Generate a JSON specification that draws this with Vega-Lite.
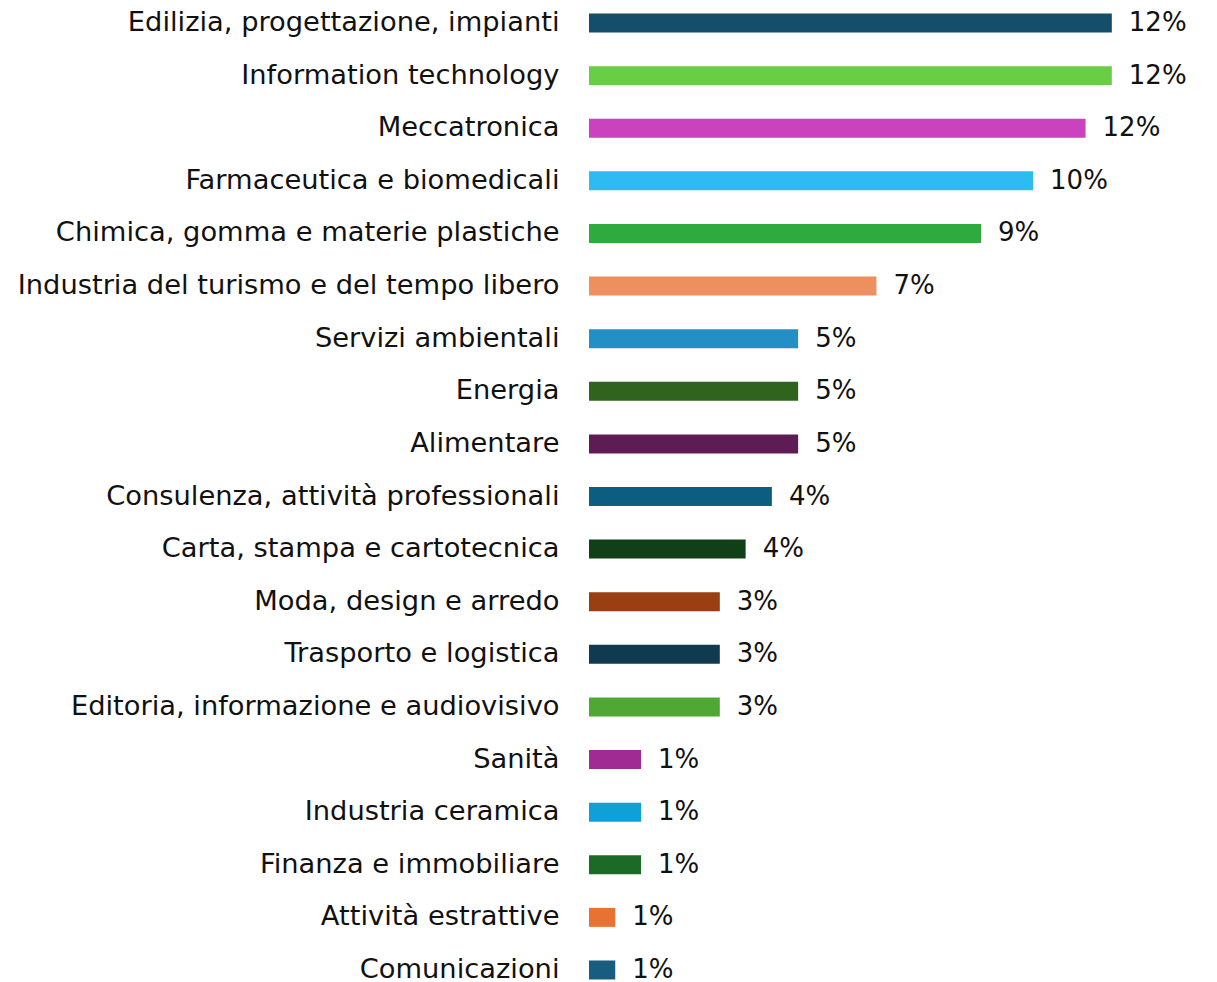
{
  "$schema": "https://vega.github.io/schema/vega-lite/v6.json",
  "autosize": "none",
  "width": 635,
  "height": 993,
  "padding": {"left": 589, "top": 0, "right": 0, "bottom": 0},
  "background": "white",
  "config": {"view": {"stroke": null}},
  "data": {
    "values": [
      {"settore": "Edilizia, progettazione, impianti", "valore": 12.35, "etichetta": "12%", "colore": "#154E6A"},
      {"settore": "Information technology", "valore": 12.35, "etichetta": "12%", "colore": "#69CD45"},
      {"settore": "Meccatronica", "valore": 11.73, "etichetta": "12%", "colore": "#CB42BF"},
      {"settore": "Farmaceutica e biomedicali", "valore": 10.49, "etichetta": "10%", "colore": "#2EBBEF"},
      {"settore": "Chimica, gomma e materie plastiche", "valore": 9.26, "etichetta": "9%", "colore": "#2EAA3E"},
      {"settore": "Industria del turismo e del tempo libero", "valore": 6.79, "etichetta": "7%", "colore": "#EE905E"},
      {"settore": "Servizi ambientali", "valore": 4.94, "etichetta": "5%", "colore": "#2290C5"},
      {"settore": "Energia", "valore": 4.94, "etichetta": "5%", "colore": "#30641E"},
      {"settore": "Alimentare", "valore": 4.94, "etichetta": "5%", "colore": "#5E1C55"},
      {"settore": "Consulenza, attività professionali", "valore": 4.32, "etichetta": "4%", "colore": "#0B5E80"},
      {"settore": "Carta, stampa e cartotecnica", "valore": 3.7, "etichetta": "4%", "colore": "#113F18"},
      {"settore": "Moda, design e arredo", "valore": 3.09, "etichetta": "3%", "colore": "#9A3F11"},
      {"settore": "Trasporto e logistica", "valore": 3.09, "etichetta": "3%", "colore": "#0F3A50"},
      {"settore": "Editoria, informazione e audiovisivo", "valore": 3.09, "etichetta": "3%", "colore": "#4FA833"},
      {"settore": "Sanità", "valore": 1.23, "etichetta": "1%", "colore": "#A02B93"},
      {"settore": "Industria ceramica", "valore": 1.23, "etichetta": "1%", "colore": "#0FA0D8"},
      {"settore": "Finanza e immobiliare", "valore": 1.23, "etichetta": "1%", "colore": "#1B6B27"},
      {"settore": "Attività estrattive", "valore": 0.62, "etichetta": "1%", "colore": "#E97132"},
      {"settore": "Comunicazioni", "valore": 0.62, "etichetta": "1%", "colore": "#175D80"}
    ]
  },
  "encoding": {
    "y": {
      "field": "settore",
      "type": "nominal",
      "sort": null,
      "scale": {"paddingInner": 0.639, "paddingOuter": 0.257},
      "axis": {
        "title": null,
        "ticks": false,
        "domain": false,
        "labelPadding": 30,
        "labelLimit": 700,
        "labelFont": "DejaVu Sans",
        "labelFontSize": 27.3,
        "labelColor": "#111111"
      }
    },
    "x": {
      "field": "valore",
      "type": "quantitative",
      "scale": {"domain": [0, 15], "nice": false, "zero": true},
      "axis": null
    }
  },
  "layer": [
    {
      "mark": {"type": "bar"},
      "encoding": {
        "color": {"field": "colore", "type": "nominal", "scale": null, "legend": null}
      }
    },
    {
      "mark": {"type": "text", "align": "left", "baseline": "middle", "dx": 17, "dy": 0, "font": "DejaVu Sans", "fontSize": 26, "color": "#111111"},
      "encoding": {
        "text": {"field": "etichetta", "type": "nominal"}
      }
    }
  ]
}
